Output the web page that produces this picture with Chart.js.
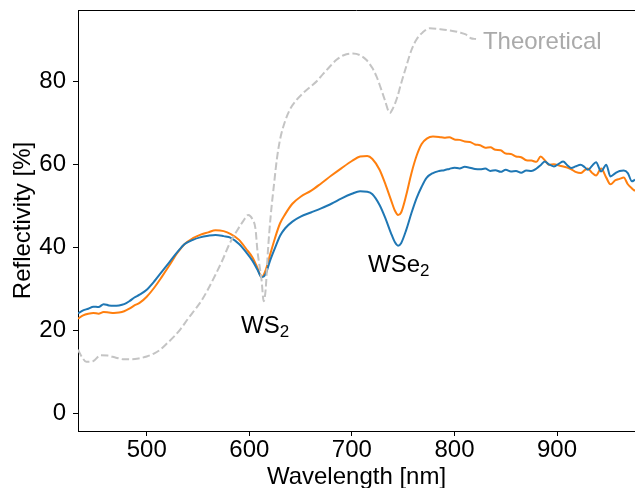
<!DOCTYPE html>
<html>
<head>
<meta charset="utf-8">
<script src="https://cdn.jsdelivr.net/npm/chart.js@4"></script>
<style>
  html, body { margin: 0; padding: 0; background: #fff; overflow: hidden; }
  #wrap { width: 635px; height: 488px; }
</style>
</head>
<body>
<div id="wrap"><canvas id="c" width="635" height="488"></canvas></div>
<script>
// ---- data ----
const wavelengthNm = [433,438,443,448,453,458,463,468,473,478,483,488,493,500,
  508,515,522,530,537,545,552,560,567,575,582,590,597,603,608,612,616,620,625,630,635,642,650,660,670,680,690,700,708,715,720,727,733,738,742,745,748,753,758,763,768,773,779,
  785,790,795,800,805,810,815,820,825,830,835,840,845,850,855,860,865,870,875,880,
  884,888,892,897,902,906,910,914,918,923,927,930,934,938,943,948,952,957,961,965,969,973,976];
const reflectivityBlue = [24.1,24.8,25.2,25.7,25.6,26.3,26.0,25.9,26.0,26.3,27.0,27.9,28.6,29.8,
  32.0,34.2,36.4,38.9,40.8,41.8,42.4,42.8,43.0,42.7,42.3,40.8,38.8,36.8,34.6,32.8,33.6,36.6,39.8,42.8,44.6,46.2,47.4,48.4,49.4,50.5,51.8,52.9,53.5,53.4,52.8,50.2,46.8,43.5,41.2,40.4,41.0,44.2,48.2,51.8,54.6,56.8,57.9,
  58.4,58.6,58.9,59.2,59.0,59.4,59.2,58.9,58.8,59.0,58.4,58.6,58.2,58.7,58.3,58.4,58.0,58.5,58.4,59.0,
  59.8,60.7,60.0,59.5,60.2,60.7,59.8,59.1,59.5,59.9,59.3,58.7,59.6,60.5,58.3,59.9,57.1,57.9,58.4,58.5,57.9,55.9,56.3];
const reflectivityOrange = [22.8,23.6,24.0,24.2,24.0,24.4,24.3,24.2,24.3,24.6,25.2,26.0,26.6,28.1,
  30.5,33.0,35.6,38.7,40.8,42.2,43.0,43.6,44.1,43.9,43.2,41.8,39.6,37.6,35.0,32.8,34.5,38.0,42.2,45.8,48.0,50.5,52.2,53.6,55.4,57.3,59.1,60.8,61.9,62.0,61.3,58.7,55.0,51.5,48.8,47.8,48.4,52.6,57.8,62.0,64.9,66.2,66.7,
  66.6,66.4,66.5,66.0,65.9,65.5,65.4,64.8,64.6,64.0,64.1,63.5,63.4,62.6,62.5,61.9,61.7,61.0,60.9,60.6,
  61.9,61.0,59.9,60.0,59.7,59.5,59.2,58.8,58.2,57.9,58.6,59.0,58.0,57.3,59.0,56.8,55.2,56.2,56.5,56.8,55.2,54.2,53.6];

const theoryNm = [433,437,441,448,455,462,470,478,485,492,500,507,513,520,527,533,540,547,553,560,567,574,581,588,594,599,603,606,608,610,612,614,616,618,621,624,627,630,635,640,646,653,660,666,672,679,685,692,701,708,714,720,724,728,732,737,740,744,748,753,758,763,769,776,785,795,805,811,816,821];
const theoryR = [15.3,13.5,12.4,12.6,14.0,13.9,13.4,13.0,13.0,13.2,13.7,14.4,15.3,16.9,18.6,20.3,22.7,25.0,27.0,30.0,33.4,37.0,41.0,44.0,46.3,47.8,46.8,44.5,39.0,35.5,32.0,27.0,30.0,38.6,48.0,55.0,61.5,66.0,70.5,73.4,75.5,77.3,78.8,80.1,81.8,83.7,85.2,86.3,86.7,86.3,85.2,83.2,81.2,78.5,75.6,72.4,73.5,76.0,79.5,83.6,87.5,90.1,91.8,92.8,92.6,92.3,91.8,91.3,90.4,90.2];

const xTicks = [500, 600, 700, 800, 900];
const yTicks = [0, 20, 40, 60, 80];
const xRange = [433, 976];
const yRange = [-4.27, 97.2];

// text labels placed in data coordinates: [text, subscript, x(nm), y(%), colour]
const annotations = [
  ['WS', '2', 592, 19.3, '#000000'],
  ['WSe', '2', 715.8, 34.0, '#000000'],
  ['Theoretical', '', 827.7, 87.8, '#aaaaaa']
];

const FONT = "'Liberation Sans', Arial, Helvetica, sans-serif";
const FS = 24;
const toXY = (xs, ys) => xs.map((x, i) => ({ x: x, y: ys[i] }));

const annotatePlugin = {
  id: 'annotate',
  afterDatasetsDraw(chart) {
    const ctx = chart.ctx;
    const xs = chart.scales.x, ys = chart.scales.y;
    const a = chart.chartArea;
    ctx.save();
    ctx.strokeStyle = '#000';
    ctx.lineWidth = 1;
    ctx.beginPath();
    ctx.moveTo(a.left, Math.round(a.top) + 0.5);
    ctx.lineTo(a.right, Math.round(a.top) + 0.5);
    ctx.stroke();
    ctx.textBaseline = 'alphabetic';
    ctx.textAlign = 'left';
    annotations.forEach(([txt, sub, xv, yv, col]) => {
      const px = xs.getPixelForValue(xv);
      const py = ys.getPixelForValue(yv);
      ctx.fillStyle = col;
      ctx.font = FS + 'px ' + FONT;
      ctx.fillText(txt, px, py);
      if (sub) {
        const w = ctx.measureText(txt).width;
        ctx.font = '17px ' + FONT;
        ctx.fillText(sub, px + w, py + 4);
      }
    });
    ctx.restore();
  }
};

new Chart(document.getElementById('c'), {
  type: 'line',
  data: {
    datasets: [
      {
        data: toXY(theoryNm, theoryR),
        borderColor: '#c4c4c4',
        borderWidth: 2,
        borderDash: [7.4, 3.2],
        pointRadius: 0,
        cubicInterpolationMode: 'monotone'
      },
      {
        data: toXY(wavelengthNm, reflectivityBlue),
        borderColor: '#1f77b4',
        borderWidth: 2,
        pointRadius: 0,
        cubicInterpolationMode: 'monotone'
      },
      {
        data: toXY(wavelengthNm, reflectivityOrange),
        borderColor: '#ff7f0e',
        borderWidth: 2,
        pointRadius: 0,
        cubicInterpolationMode: 'monotone'
      }
    ]
  },
  options: {
    responsive: false,
    animation: false,
    devicePixelRatio: 1,
    layout: { padding: { top: 10, left: 0, right: 0, bottom: 0 } },
    plugins: { legend: { display: false }, tooltip: { enabled: false } },
    scales: {
      x: {
        type: 'linear',
        min: xRange[0], max: xRange[1],
        afterBuildTicks: s => { s.ticks = xTicks.map(v => ({ value: v })); },
        afterFit: s => { s.height = 57; s.paddingLeft = 0; s.paddingRight = 0; },
        grid: { drawOnChartArea: false, tickLength: 5, color: '#000', tickWidth: 1 },
        border: { color: '#000', width: 1 },
        ticks: { color: '#000', padding: 0, font: { family: FONT, size: FS }, maxRotation: 0 },
        title: { display: true, text: 'Wavelength [nm]', color: '#000', font: { family: FONT, size: FS, lineHeight: 0.87 }, padding: 0 }
      },
      y: {
        type: 'linear',
        min: yRange[0], max: yRange[1],
        afterBuildTicks: s => { s.ticks = yTicks.map(v => ({ value: v })); },
        afterFit: s => { s.width = 78; s.paddingTop = 0; s.paddingBottom = 0; },
        grid: { drawOnChartArea: false, tickLength: 5, color: '#000', tickWidth: 1 },
        border: { color: '#000', width: 1 },
        ticks: { color: '#000', padding: 7, font: { family: FONT, size: FS } },
        title: { display: true, text: 'Reflectivity [%]', color: '#000', font: { family: FONT, size: FS }, padding: { top: 8.9, bottom: 0 } }
      }
    }
  },
  plugins: [annotatePlugin]
});
</script>
</body>
</html>
